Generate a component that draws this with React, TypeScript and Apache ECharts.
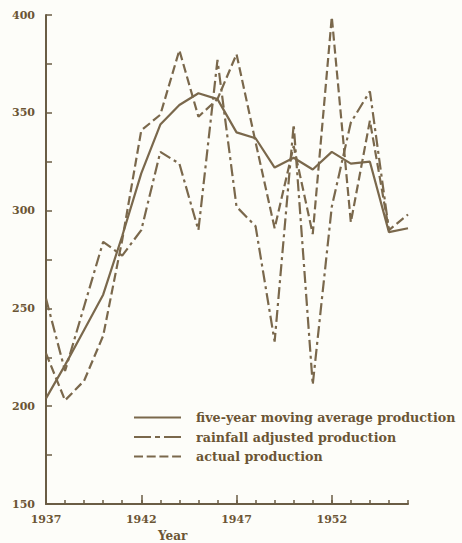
import React, { useEffect, useRef } from "react";
import * as echarts from "echarts";

const years = [
  "1937", "1938", "1939", "1940", "1941", "1942", "1943", "1944", "1945", "1946",
  "1947", "1948", "1949", "1950", "1951", "1952", "1953", "1954", "1955", "1956",
];
const movingAverage = [204, 221, 239, 257, 287, 319, 344, 354, 360, 357, 340, 337, 322, 327, 321, 330, 324, 325, 289, 291];
const rainfallAdjusted = [255, 218, 251, 284, 277, 290, 330, 324, 290, 377, 302, 292, 233, 344, 211, 302, 345, 361, 290, null];
const actual = [227, 203, 213, 236, 285, 341, 349, 382, 348, 357, 380, 335, 291, 333, 288, 399, 294, 346, 290, 298];
const seriesNames = ["five-year moving average production", "rainfall adjusted production", "actual production"];

const LINE = "#7a684c";
const TEXT = "#6b5535";
const AXIS = "#6a5d45";
const FONT = "DejaVu Serif";

export default function App() {
  const ref = useRef<HTMLDivElement>(null);
  useEffect(() => {
    if (!ref.current) return;
    const chart = echarts.init(ref.current, null, { renderer: "svg" });
    const lineBase = { type: "line", symbol: "none", xAxisIndex: 0, yAxisIndex: 0, z: 3 };
    chart.setOption({
      animation: false,
      backgroundColor: "#fdfdf9",
      grid: { left: 46, right: 54, top: 15, bottom: 39, containLabel: false },
      xAxis: [
        {
          type: "category",
          data: years,
          boundaryGap: false,
          position: "bottom",
          axisLine: { show: true, lineStyle: { color: AXIS, width: 2 } },
          axisTick: { show: true, inside: true, length: 4, interval: 0, lineStyle: { color: AXIS, width: 1.5 } },
          axisLabel: {
            interval: (i: number) => i % 5 === 0,
            color: TEXT,
            fontFamily: FONT,
            fontWeight: "bold",
            fontSize: 11,
            margin: 10,
          },
          splitLine: { show: false },
        },
        {
          type: "category",
          data: years,
          boundaryGap: false,
          position: "bottom",
          axisLine: { show: false },
          axisTick: { show: true, inside: true, length: 9, interval: (i: number) => i % 5 === 0, lineStyle: { color: AXIS, width: 1.5 } },
          axisLabel: { show: false },
          splitLine: { show: false },
        },
      ],
      yAxis: {
        type: "value",
        min: 150,
        max: 400,
        interval: 25,
        axisLine: { show: true, lineStyle: { color: AXIS, width: 2 } },
        axisTick: { show: true, inside: true, length: 6, lineStyle: { color: AXIS, width: 1.5 } },
        axisLabel: {
          formatter: (v: number) => (v % 50 === 0 ? String(v) : ""),
          color: TEXT,
          fontFamily: FONT,
          fontWeight: "bold",
          fontSize: 11,
          margin: 11,
        },
        splitLine: { show: false },
      },
      legend: {
        orient: "vertical",
        left: 133,
        top: 411,
        padding: 0,
        itemWidth: 47,
        itemHeight: 12,
        itemGap: 6.5,
        data: [
          { name: seriesNames[0] },
          { name: seriesNames[1], lineStyle: { type: [17, 4, 5, 4] } },
          { name: seriesNames[2], lineStyle: { type: [9, 3.7] } },
        ],
        itemStyle: { opacity: 0 },
        textStyle: { color: TEXT, fontFamily: FONT, fontWeight: "bold", fontSize: 12.7, padding: [0, 0, 0, 10] },
      },
      series: [
        { ...lineBase, name: seriesNames[0], data: movingAverage, lineStyle: { color: LINE, width: 2.2, type: "solid" }, itemStyle: { color: LINE } },
        { ...lineBase, name: seriesNames[1], data: rainfallAdjusted, lineStyle: { color: LINE, width: 2.2, type: [12, 4, 3, 4] }, itemStyle: { color: LINE } },
        { ...lineBase, name: seriesNames[2], data: actual, lineStyle: { color: LINE, width: 2.2, type: [9, 4] }, itemStyle: { color: LINE } },
      ],
      graphic: [
        {
          type: "text",
          left: 158,
          top: 530,
          style: { text: "Year", fill: TEXT, font: `bold 12px "${FONT}"` },
        },
      ],
    });
    return () => chart.dispose();
  }, []);
  return <div ref={ref} style={{ position: "fixed", left: 0, top: 0, width: 462, height: 543 }} />;
}
